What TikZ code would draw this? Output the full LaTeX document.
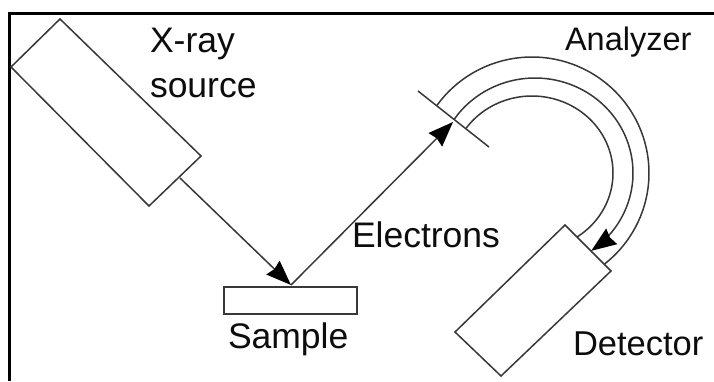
\documentclass[tikz,border=0pt]{standalone}
\usepackage{fontspec}
\setmainfont{Liberation Sans}
\usetikzlibrary{arrows.meta}
\tikzset{
  line/.style={draw=black!78,line width=1.5pt,line join=miter},
  ray/.style={line,-{Stealth[length=25pt,width=19pt,inset=2pt,black]}},
  lab/.style={inner sep=0pt,outer sep=0pt,anchor=base west,text=black!95},
  big/.style={lab,font=\fontsize{35.5}{36}\selectfont},
  mid/.style={lab,font=\fontsize{32.5}{33}\selectfont}
}
\begin{document}
\begin{tikzpicture}[x=1pt,y=-1pt]
\useasboundingbox (0,0) rectangle (714,381);
\fill[white] (0,0) rectangle (714,381);
% frame
\coordinate (fb) at (9.5,381);
\coordinate (fc) at (9.5,13);
\coordinate (fr) at (714,13);
\draw[black,line width=3pt] (fb) -- (fc) -- (fr);
% x-ray source
\coordinate (s1) at (60,19);
\coordinate (s2) at (201,156);
\coordinate (s3) at (149,206);
\coordinate (s4) at (11,67);
\draw[line] (s1) -- (s2) -- (s3) -- (s4) -- cycle;
% sample
\node[line,rectangle,minimum width=133pt,minimum height=27pt,inner sep=0pt,outer sep=0pt] (sample) at (290.5,300.5) {};
% detector
\coordinate (d1) at (565,225);
\coordinate (d2) at (611,271);
\coordinate (d3) at (501,376);
\coordinate (d4) at (455,332);
\draw[line] (d1) -- (d2) -- (d3) -- (d4) -- cycle;
% slit
\coordinate (t1) at (418,91);
\coordinate (t2) at (489,147);
\draw[line] (t1) -- (t2);
% rays
\coordinate (srcout) at (180,178);
\coordinate (hit) at (291,285);
\coordinate (slit) at (453,122);
\draw[ray] (srcout) -- (hit);
\draw[ray] (hit) -- (slit);
% analyzer
\draw[line] plot[smooth,samples=60,domain=144.2:-52,variable=\t] ({532+117*cos(\t)},{173-116*sin(\t)});
\draw[ray] plot[smooth,samples=60,domain=145.5:-55,variable=\t] ({535+98*cos(\t)},{173-95*sin(\t)});
\draw[line] plot[smooth,samples=60,domain=144.4:-56,variable=\t] ({532+81*cos(\t)},{173-77*sin(\t)});
% labels
\node[big] (xray) at (150,52) {X-ray};
\node[big] (source) at (150,97) {source};
\node[mid] (analyzer) at (565,50) {Analyzer};
\node[big] (electrons) at (352,247) {Electrons};
\node[big] (samplelab) at (228,348) {Sample};
\node[mid,font=\fontsize{34.5}{35}\selectfont] (detector) at (573,355) {Detector};
\end{tikzpicture}
\end{document}
